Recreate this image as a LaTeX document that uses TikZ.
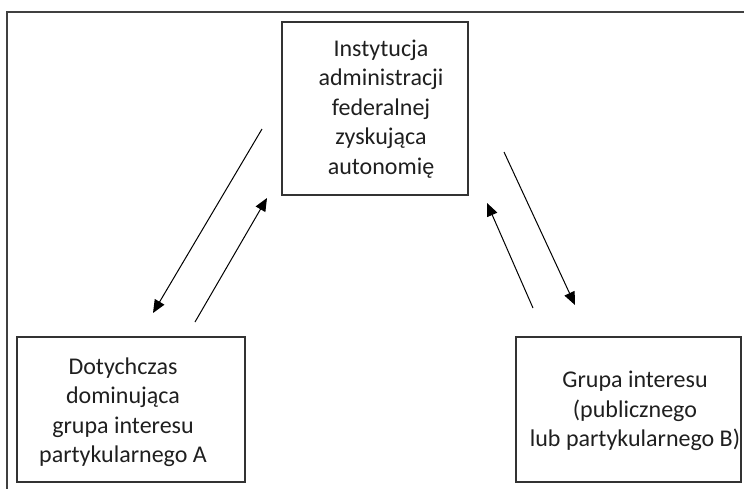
\documentclass[tikz,border=0pt]{standalone}
\usepackage{fontspec}
\setmainfont{Carlito}
\usetikzlibrary{arrows.meta}
\begin{document}
\begin{tikzpicture}[x=1pt,y=-1pt,
  frame/.style={draw=black!75,line width=1.5pt},
  box/.style={draw=black!80,line width=1.2pt,rectangle,inner sep=0pt},
  txt/.style={align=center,font=\fontsize{24}{29.5}\selectfont,text=black!88,inner sep=0pt},
  link/.style={line width=1pt,-{Triangle[length=13pt,width=11pt]}}]
\useasboundingbox (0,0) rectangle (744,488);
\clip (0,0) rectangle (744,488);
% outer frame (runs off the right and bottom edges)
\draw[frame] (7,12) rectangle (760,500);
% boxes
\node[box,minimum width=186pt,minimum height=173pt] (inst) at (375,108.5) {};
\node[box,minimum width=228pt,minimum height=145pt] (grpA) at (131,409.5) {};
\node[box,minimum width=225pt,minimum height=145pt] (grpB) at (628.5,409.5) {};
% labels
\node[txt] (instT) at (381,109) {Instytucja\\administracji\\federalnej\\zyskująca\\autonomię};
\node[txt] (grpAT) at (123,412) {Dotychczas\\dominująca\\grupa interesu\\partykularnego A};
\node[txt] (grpBT) at (635,411) {Grupa interesu\\(publicznego\\lub partykularnego B)};
% arrow end points
\coordinate (l1s) at (262,129); \coordinate (l1e) at (153,313);
\coordinate (l2s) at (195,322); \coordinate (l2e) at (267,198);
\coordinate (r1s) at (504,152); \coordinate (r1e) at (575,305);
\coordinate (r2s) at (533,308); \coordinate (r2e) at (487,203);
\draw[link] (l1s) -- (l1e);
\draw[link] (l2s) -- (l2e);
\draw[link] (r1s) -- (r1e);
\draw[link] (r2s) -- (r2e);
\end{tikzpicture}
\end{document}
